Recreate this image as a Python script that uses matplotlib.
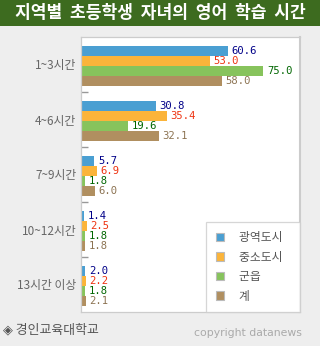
import numpy as np
import matplotlib
matplotlib.use("Agg")
import matplotlib.pyplot as plt
from matplotlib.patches import Patch, Rectangle

plt.rcParams['font.family'] = ['Noto Sans CJK KR', 'DejaVu Sans']

# data
categories = ["1~3시간", "4~6시간", "7~9시간", "10~12시간", "13시간 이상"]
series_names = ["광역도시", "중소도시", "군읍", "계"]
metro = [60.6, 30.8, 5.7, 1.4, 2.0]
small_city = [53.0, 35.4, 6.9, 2.5, 2.2]
rural = [75.0, 19.6, 1.8, 1.8, 1.8]
total = [58.0, 32.1, 6.0, 1.8, 2.1]

bar_colors = ["#4a9fd2", "#fbb43a", "#87c35c", "#b08f60"]
label_colors = ["#000088", "#ee3311", "#006600", "#8c7352"]

W, H = 320, 346
fig = plt.figure(figsize=(W / 100, H / 100), dpi=100)
fig.patch.set_facecolor("#eeeeee")

# title bar
fig.patches.append(Rectangle((0, 1 - 26 / H), 1, 26 / H, transform=fig.transFigure,
                             facecolor="#3d6b1f", edgecolor="none", zorder=0))
fig.text(0.5, 1 - 13 / H, "지역별  초등학생  자녀의  영어  학습  시간", color="white",
         fontsize=12.3, fontweight="bold", ha="center", va="center")

ax = fig.add_axes([80.5 / W, (H - 312) / H, 219.5 / W, 275 / H])
ax.set_facecolor("white")

y = np.arange(len(categories))
h = 10 / 55
shift = 1.5 / 55
allvals = [metro, small_city, rural, total]
for i, vals in enumerate(allvals):
    pos = y + (i - 1.5) * h + shift
    ax.barh(pos, vals, height=h, color=bar_colors[i], zorder=2)
    for p, v in zip(pos, vals):
        ax.annotate(f"{v:.1f}", (v, p), xytext=(2.5, 0), textcoords="offset points",
                    ha="left", va="center", fontsize=7.6, family="DejaVu Sans Mono",
                    color=label_colors[i], zorder=3)

ax.set_xlim(0, 90)
ax.set_ylim(len(categories) - 0.5, -0.5)
ax.set_xticks([])
ax.set_yticks(y)
ax.set_yticklabels(categories, fontsize=8.5, color="#666666")
ax.tick_params(axis="y", which="major", length=0, pad=3)
ax.set_yticks(np.arange(0.5, len(categories) - 0.5, 1), minor=True)
ax.tick_params(axis="y", which="minor", direction="in", length=5, color="#999999", width=1)

for s in ax.spines.values():
    s.set_color("#cccccc")
    s.set_linewidth(0.9)
ax.spines["right"].set_linewidth(1.5)

handles = [Patch(facecolor=c, edgecolor="#bbbbbb", linewidth=0.8) for c in bar_colors]
leg = ax.legend(handles, [n + "   " for n in series_names], loc="lower right",
                bbox_to_anchor=(1, 0), borderaxespad=0, fancybox=False, frameon=True,
                fontsize=8.5, handlelength=0.7, handleheight=0.7, handletextpad=1.3,
                labelspacing=0.55, borderpad=0.8)
leg.get_frame().set_edgecolor("#cccccc")
leg.get_frame().set_linewidth(0.9)
for t in leg.get_texts():
    t.set_color("#555555")

fig.text(3 / W, 1 - 330 / H, "◈ 경인교육대학교", fontsize=9.3, color="#555555",
         ha="left", va="center")
fig.text(302 / W, 1 - 333 / H, "copyright datanews", fontsize=7.8, color="#aaaaaa",
         ha="right", va="center", family="DejaVu Sans")

fig.savefig("out.png", dpi=100, facecolor=fig.get_facecolor())
